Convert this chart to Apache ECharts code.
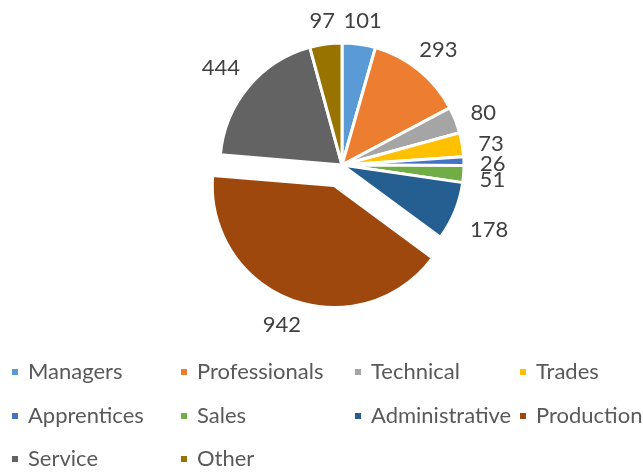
<!DOCTYPE html>
<html>
<head>
<meta charset="utf-8">
<script src="https://cdn.jsdelivr.net/npm/echarts@6/dist/echarts.min.js"></script>
<style>
  html, body { margin: 0; padding: 0; background: #fff; }
  #chart { width: 643px; height: 475px; }
</style>
</head>
<body>
<div id="chart"></div>
<script>
const categories = ['Managers', 'Professionals', 'Technical', 'Trades', 'Apprentices',
  'Sales', 'Administrative', 'Production', 'Service', 'Other'];
const values = [101, 293, 80, 73, 26, 51, 178, 942, 444, 97];
const colors = ['#5B9BD5', '#ED7D31', '#A5A5A5', '#FFC000', '#4472C4',
  '#70AD47', '#255E91', '#9E480E', '#636363', '#997300'];
const exploded = ['Production'];

const EXPLODE = 22;
const LABEL_GAP = 12;

const myChart = echarts.init(document.getElementById('chart'));

const data = categories.map((name, i) => {
  const item = {
    name,
    value: values[i],
    itemStyle: { color: colors[i] },
  };
  if (exploded.includes(name)) {
    // selected labels keep their own spot, so push it out here
    item.selected = true;
    item.labelLine = { length: 27, length2: 0 };
    item.label = { distanceToLabelLine: 0 };
  }
  return item;
});

// legend in a 4 column grid, one box per entry
const colLeft = [5, 174, 348, 513];
const rowTop = [354, 398, 441];
const legends = categories.map((name, i) => ({
  left: colLeft[i % 4],
  top: rowTop[Math.floor(i / 4)],
  itemWidth: 8,
  itemHeight: 8,
  icon: 'rect',
  selectedMode: false,
  textStyle: {
    fontSize: 22, lineHeight: 26, color: '#595959', fontFamily: 'Lato', padding: [0, 0, 0, 4],
  },
  data: [name],
}));

// put each value label just outside the slice edge, excel style
function placeLabel(params) {
  const sData = myChart.getModel().getSeriesByIndex(0).getData();
  const lay = sData.getItemLayout(params.dataIndex);
  const mid = (lay.startAngle + lay.endAngle) / 2;
  const ux = Math.cos(mid);
  const uy = Math.sin(mid);
  let r = lay.r + LABEL_GAP;
  const hw = params.labelRect.width / 2 + 4;
  const hh = params.labelRect.height / 2 + 4;
  const ext = Math.min(Math.abs(ux) > 1e-6 ? hw / Math.abs(ux) : Infinity,
    Math.abs(uy) > 1e-6 ? hh / Math.abs(uy) : Infinity);
  r += ext;
  return {
    x: lay.cx + r * ux,
    y: lay.cy + r * uy + 4,
    align: 'center',
    verticalAlign: 'middle',
    hideOverlap: false,
  };
}

myChart.setOption({
  animation: false,
  textStyle: { fontFamily: 'Lato' },
  legend: legends,
  series: [
    {
      name: 'Employees',
      type: 'pie',
      center: [342, 165],
      radius: [0, 122],
      startAngle: 90,
      selectedMode: 'multiple',
      selectedOffset: EXPLODE,
      avoidLabelOverlap: false,
      itemStyle: { borderColor: '#fff', borderWidth: 3 },
      label: {
        show: true,
        position: 'outside',
        formatter: '{c}',
        fontSize: 22,
        color: '#404040',
        fontFamily: 'Lato',
      },
      labelLine: { show: false, length: 0, length2: 0 },
      labelLayout: placeLabel,
      emphasis: { disabled: true },
      data,
    },
  ],
});
</script>
</body>
</html>
